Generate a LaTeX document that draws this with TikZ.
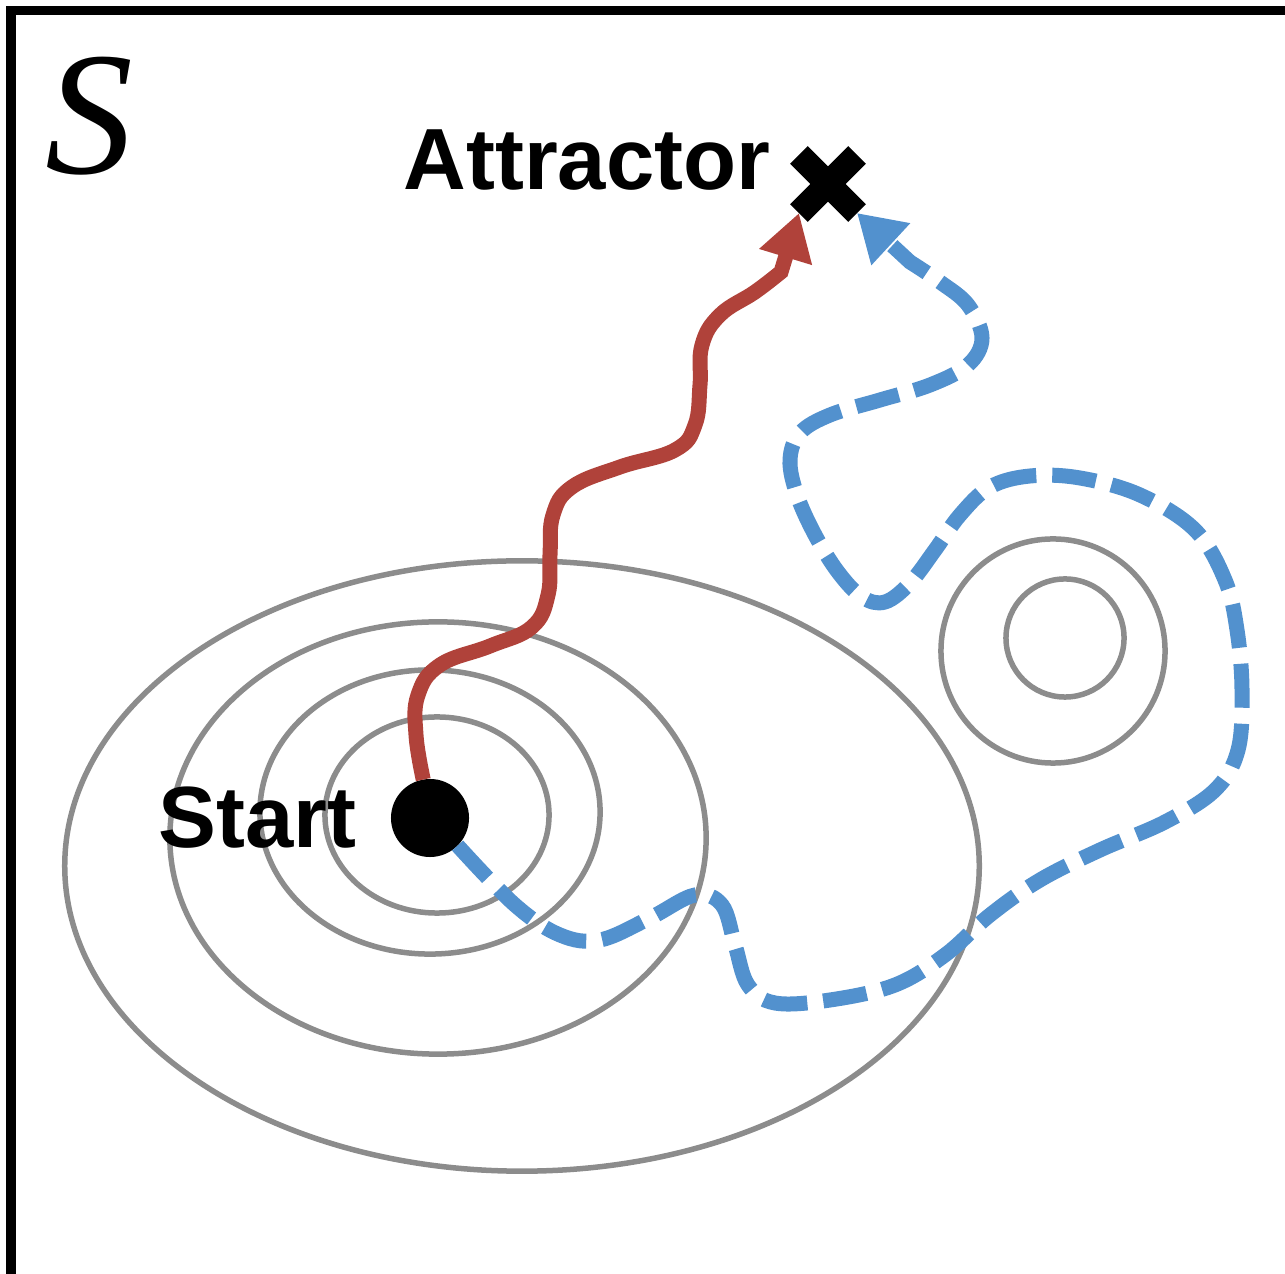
\documentclass[tikz,border=0pt]{standalone}
\usepackage{fontspec}
\setmainfont{Liberation Sans}
\newfontfamily\serifit{Liberation Serif}
\usepackage{xcolor}
\usetikzlibrary{positioning,arrows.meta,shapes.misc}
\definecolor{ink}{RGB}{0,0,0}
\definecolor{pathred}{RGB}{176,66,58}
\definecolor{pathblue}{RGB}{82,145,206}
\definecolor{contour}{RGB}{140,140,140}
\tikzset{
  frame/.style={draw=ink, line width=0.09cm},
  level/.style={draw=contour, line width=0.055cm},
  dot/.style={circle, fill=ink, minimum size=0.78cm, inner sep=0pt, outer sep=0pt},
  target/.style={cross out, draw=ink, line width=0.25cm, minimum size=0.58cm,
    inner sep=0pt, outer sep=0pt},
  lbl/.style={font=\fontsize{24.7}{30}\selectfont\bfseries, text=ink, inner sep=0pt},
  direct/.style={draw=pathred, line width=0.15cm,
    -{Triangle[length=0.46cm, width=0.52cm]}},
  detour/.style={draw=pathblue, line width=0.15cm, dash pattern=on 0.44cm off 0.16cm,
    -{Triangle[length=0.46cm, width=0.54cm]}},
}

\begin{document}
\begin{tikzpicture}[x=0.01cm, y=-0.01cm]
  \useasboundingbox (0,0) rectangle (1285,1274);
  \draw[frame] (11,1274) -- (11,11) -- (1285,11);
  % contour lines
  \draw[level] (522,866) ellipse [x radius=4.57cm, y radius=3.05cm];
  \draw[level] (438,838) ellipse [x radius=2.68cm, y radius=2.16cm];
  \draw[level] (430,812) ellipse [x radius=1.70cm, y radius=1.42cm];
  \draw[level] (437,815) ellipse [x radius=1.12cm, y radius=0.98cm];
  \draw[level] (1053,651) circle [radius=1.12cm];
  \draw[level] (1065,638) circle [radius=0.59cm];
  \node[font=\fontsize{50}{60}\selectfont\serifit\itshape] (space) at (89,116) {S};
  \node[dot] (start) at (430,818) {};
  \node[target] (attr) at (828,184) {};
  \node[lbl, left=0.28cm of attr, yshift=0.24cm] (attrlbl) {Attractor};
  \node[lbl, left=0.34cm of start] (startlbl) {Start};
  \draw[direct] plot[smooth, tension=0.7] coordinates {(start.100) (416,735)
    (418,695) (440,665) (490,646) (532,627) (548,595) (550,555) (553,515)
    (572,487) (620,467) (675,450) (695,425) (700,385) (702,345) (720,315)
    (755,292) (781,272)} -- (attr.south west);
  \draw[detour] plot[smooth, tension=0.6] coordinates {(start.-45) (515,905)
    (560,935) (600,940) (650,918) (695,895) (722,905) (735,945) (748,985)
    (775,1003) (830,1000) (895,985) (945,955) (990,915) (1040,880) (1100,850)
    (1165,822) (1215,790) (1238,750) (1242,690) (1237,630) (1225,580)
    (1195,530) (1140,495) (1080,478) (1030,476) (990,487) (960,515) (935,550)
    (910,583) (885,602) (862,597) (838,572) (815,535) (797,495) (790,460)
    (800,433) (830,415) (880,400) (930,385) (968,365) (982,338) (968,305)
    (940,282) (910,262)} -- (attr.south east);
\end{tikzpicture}
\end{document}
